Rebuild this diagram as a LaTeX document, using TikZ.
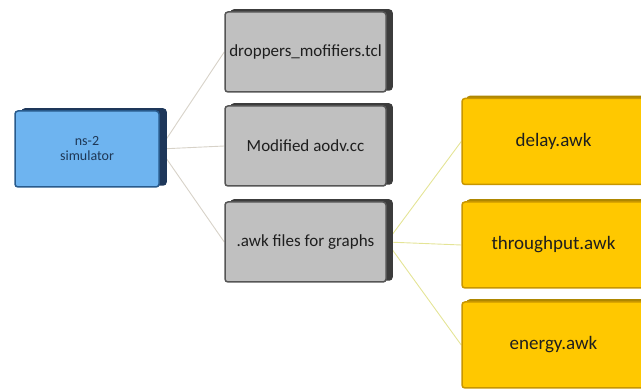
\documentclass[tikz,border=0pt]{standalone}
\usepackage{fontspec}
\setmainfont{Carlito}
\usetikzlibrary{shadows}
\pgfdeclarelayer{bg}
\pgfsetlayers{bg,main}
\definecolor{blue1}{RGB}{110,180,240}
\definecolor{blue2}{RGB}{40,90,140}
\definecolor{blue3}{RGB}{30,55,90}
\definecolor{gray1}{RGB}{192,192,192}
\definecolor{gray2}{RGB}{85,85,85}
\definecolor{gray3}{RGB}{60,60,60}
\definecolor{yel1}{RGB}{255,200,0}
\definecolor{yel2}{RGB}{200,150,0}
\definecolor{yel3}{RGB}{175,135,0}
\definecolor{lgray}{RGB}{215,210,200}
\definecolor{lyel}{RGB}{228,228,150}
\definecolor{txt}{RGB}{30,30,30}
\definecolor{btxt}{RGB}{30,55,85}
\begin{document}
\begin{tikzpicture}[x=1pt,y=-1pt,
  box/.style={line width=1.5pt, rounded corners=3pt, inner sep=0pt, align=center, text=txt},
  simbox/.style={box, fill=blue1, draw=blue2, minimum width=144pt, minimum height=76pt,
    text=btxt, font=\fontsize{14}{15}\selectfont,
    general shadow={fill=blue3, draw=blue3, shadow xshift=7pt, shadow yshift=2pt}},
  filebox/.style={box, fill=gray1, draw=gray2, minimum width=161pt, minimum height=80pt,
    font=\fontsize{17}{20}\selectfont,
    general shadow={fill=gray3, draw=gray3, shadow xshift=6pt, shadow yshift=2pt}},
  awkbox/.style={box, fill=yel1, draw=yel2, minimum width=183pt, minimum height=86pt,
    font=\fontsize{19}{22}\selectfont,
    general shadow={fill=yel3, draw=yel3, shadow xshift=5pt, shadow yshift=2pt}},
  link/.style={draw=lgray, line width=0.9pt},
  ylink/.style={draw=lyel, line width=0.9pt}]
\useasboundingbox (0,0) rectangle (641,390);
\clip (0,0) rectangle (641,390);
\node[simbox] (sim) at (87,149) {ns-2\\simulator};
\node[filebox] (g1) at (305.5,52) {droppers\_mofifiers.tcl};
\node[filebox] (g2) at (305.5,146) {Modified aodv.cc};
\node[filebox] (g3) at (305.5,242) {.awk files for graphs};
\node[awkbox] (y1) at (553.5,141.5) {delay.awk};
\node[awkbox] (y2) at (553.5,245) {throughput.awk};
\node[awkbox] (y3) at (553.5,345) {energy.awk};
\begin{pgfonlayer}{bg}
\draw[link] (sim.east) -- (g1.west);
\draw[link] (sim.east) -- (g2.west);
\draw[link] (sim.east) -- (g3.west);
\draw[ylink] (g3.east) -- (y1.west);
\draw[ylink] (g3.east) -- (y2.west);
\draw[ylink] (g3.east) -- (y3.west);
\end{pgfonlayer}
\end{tikzpicture}
\end{document}
